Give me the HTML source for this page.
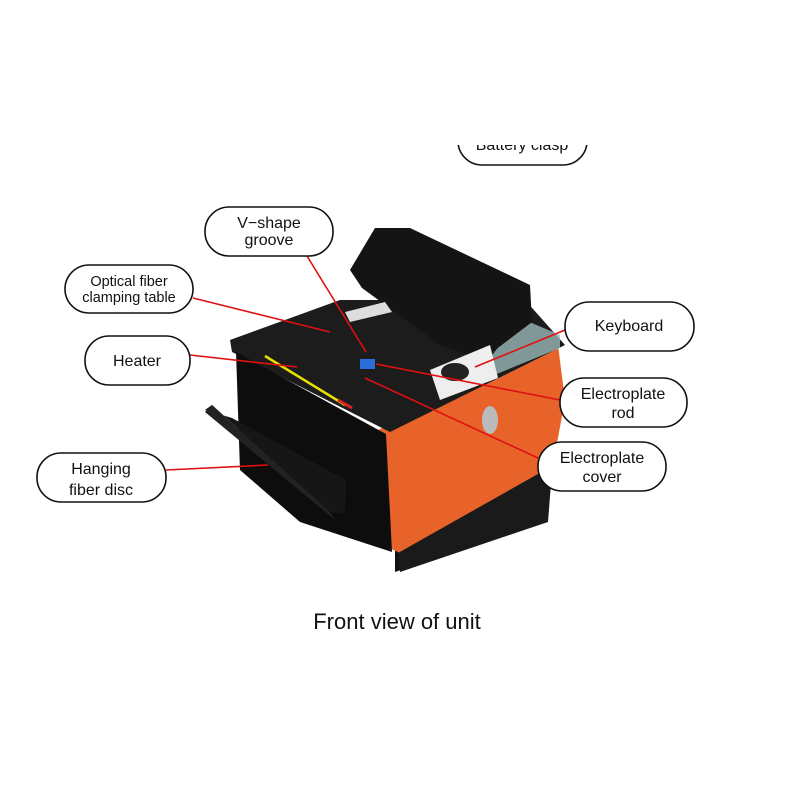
<!DOCTYPE html>
<html><head><meta charset="utf-8"><style>
html,body{margin:0;padding:0;background:#fff}
svg{display:block}
text{font-family:"Liberation Sans",sans-serif;fill:#111}
</style></head><body>
<svg width="800" height="800" viewBox="0 0 800 800">
<rect x="458" y="112" width="129" height="53" rx="24" fill="#fff" stroke="#111" stroke-width="1.6"/>
<text x="522" y="150" font-size="16" text-anchor="middle">Battery clasp</text>
<rect x="440" y="100" width="170" height="45" fill="#fff"/>

<polygon points="240,455 395,535 395,572 545,520 548,470 400,545 245,470" fill="#111"/>
<polygon points="378,430 558,345 565,400 552,470 400,553 372,540" fill="#e8632a"/>
<polygon points="545,470 552,470 548,522 400,572 398,553" fill="#1a1a1a"/>
<polygon points="230,340 340,300 525,300 565,345 390,432 232,352" fill="#1c1c1c"/>
<polygon points="520,318 560,335 560,348 470,385" fill="#9ab8b8" opacity="0.8"/>
<polygon points="236,352 386,434 392,552 300,522 240,470" fill="#0d0d0d"/>
<polygon points="350,270 375,228 410,228 530,285 532,322 482,360 440,345 362,288" fill="#141414"/>
<polygon points="205,410 212,405 330,512 345,514 346,480 232,418" fill="#161616"/>
<polygon points="212,405 330,512 335,520 205,412" fill="#222"/>
<polygon points="430,370 490,345 498,378 440,400" fill="#eee"/>
<ellipse cx="455" cy="372" rx="14" ry="9" fill="#222"/>
<polygon points="345,312 385,302 392,312 350,322" fill="#ddd"/>
<line x1="265" y1="356" x2="345" y2="405" stroke="#e8e000" stroke-width="2.5"/>
<line x1="338" y1="400" x2="352" y2="408" stroke="#d22" stroke-width="3"/>
<rect x="360" y="359" width="15" height="10" fill="#2a6ed8"/>
<ellipse cx="490" cy="420" rx="8" ry="14" fill="#bbb"/>

<g stroke="#e01010" stroke-width="1.6" fill="none">
<line x1="307" y1="256" x2="366" y2="352"/>
<line x1="193" y1="298" x2="330" y2="332"/>
<line x1="190" y1="355" x2="297" y2="367"/>
<line x1="166" y1="470" x2="268" y2="465"/>
<line x1="565" y1="330" x2="475" y2="367"/>
<line x1="560" y1="400" x2="376" y2="364"/>
<line x1="538" y1="458" x2="365" y2="378"/>
</g>

<g fill="#fff" stroke="#111" stroke-width="1.6">
<rect x="205" y="207" width="128" height="49" rx="24"/>
<rect x="65" y="265" width="128" height="48" rx="24"/>
<rect x="85" y="336" width="105" height="49" rx="24"/>
<rect x="37" y="453" width="129" height="49" rx="24"/>
<rect x="565" y="302" width="129" height="49" rx="24"/>
<rect x="560" y="378" width="127" height="49" rx="24"/>
<rect x="538" y="442" width="128" height="49" rx="24"/>
</g>
<g font-size="16" text-anchor="middle">
<text x="269" y="228">V−shape</text><text x="269" y="245">groove</text>
<text x="129" y="286" font-size="14.5">Optical fiber</text><text x="129" y="302" font-size="14.5">clamping table</text>
<text x="137" y="366">Heater</text>
<text x="101" y="474">Hanging</text><text x="101" y="495">fiber disc</text>
<text x="629" y="331">Keyboard</text>
<text x="623" y="399">Electroplate</text><text x="623" y="418">rod</text>
<text x="602" y="463">Electroplate</text><text x="602" y="482">cover</text>
</g>
<text x="397" y="629" font-size="22" text-anchor="middle">Front view of unit</text>
</svg>
</body></html>
